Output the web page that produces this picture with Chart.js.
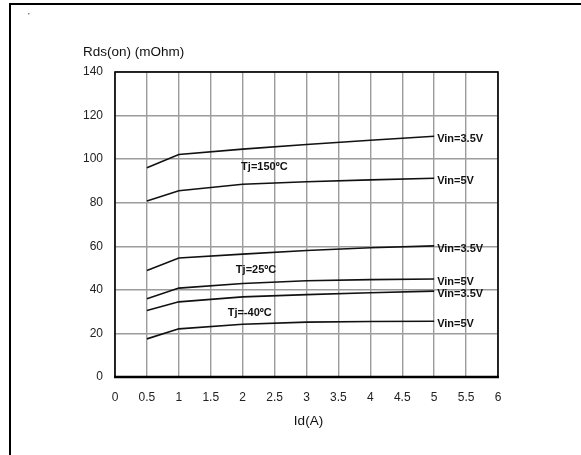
<!DOCTYPE html>
<html>
<head>
<meta charset="utf-8">
<script src="https://cdn.jsdelivr.net/npm/chart.js@4.4.1/dist/chart.umd.min.js"></script>
<style>
  html, body { margin: 0; padding: 0; background: #fff; }
  canvas { display: block; }
</style>
</head>
<body>
<canvas id="chart" width="581" height="455"></canvas>
<script>
// Id (A) sample points and Rds(on) in mOhm
const idValues = [0.5, 1, 2, 3, 4, 5];
const tj150Vin35 = [96.1, 102.1, 104.6, 106.7, 108.7, 110.5];
const tj150Vin5 = [80.8, 85.5, 88.5, 89.6, 90.5, 91.2];
const tj25Vin35 = [48.9, 54.6, 56.4, 58.1, 59.3, 60.2];
const tj25Vin5 = [35.9, 40.8, 42.9, 44.2, 44.7, 45.0];
const tjm40Vin35 = [30.5, 34.5, 36.8, 37.8, 38.7, 39.4];
const tjm40Vin5 = [17.5, 22.1, 24.2, 25.2, 25.5, 25.6];

const curves = [tj150Vin35, tj150Vin5, tj25Vin35, tj25Vin5, tjm40Vin35, tjm40Vin5];
const vinLabels = ['Vin=3.5V', 'Vin=5V', 'Vin=3.5V', 'Vin=5V', 'Vin=3.5V', 'Vin=5V'];

const tjLabels = ['Tj=150\u00baC', 'Tj=25\u00baC', 'Tj=-40\u00baC'];
const tjLabelX = [2.34, 2.21, 2.11];
const tjLabelY = [96.6, 48.9, 29.4];

const yTitle = 'Rds(on) (mOhm)';
const xTitle = 'Id(A)';

const FONT = '"Liberation Sans", Arial, sans-serif';

// page frame, titles and curve labels
const annotations = {
  id: 'annotations',
  beforeDraw(chart) {
    const ctx = chart.ctx;
    ctx.save();
    ctx.fillStyle = '#000';
    ctx.fillRect(9, 3, 581 - 9, 2);
    ctx.fillRect(9, 3, 2, 455);
    ctx.fillStyle = '#888';
    ctx.fillRect(28, 13, 1.5, 1.5);
    ctx.restore();
  },
  afterDraw(chart) {
    const ctx = chart.ctx;
    const x = chart.scales.x;
    const y = chart.scales.y;
    const a = chart.chartArea;
    ctx.save();

    // plot frame
    ctx.strokeStyle = '#000';
    ctx.lineWidth = 1.6;
    ctx.strokeRect(a.left, a.top, a.right - a.left, a.bottom - a.top);
    ctx.lineWidth = 2.6;
    ctx.beginPath();
    ctx.moveTo(a.left - 1, a.bottom);
    ctx.lineTo(a.right + 1, a.bottom);
    ctx.stroke();

    ctx.fillStyle = '#111';
    ctx.font = '13.5px ' + FONT;
    ctx.textBaseline = 'middle';
    ctx.textAlign = 'left';
    ctx.fillText(yTitle, 83, 52);
    ctx.textAlign = 'center';
    ctx.fillText(xTitle, (a.left + a.right) / 2 + 2, 421);

    ctx.font = 'bold 11px ' + FONT;
    ctx.textAlign = 'left';
    curves.forEach((c, i) => {
      const last = c.length - 1;
      ctx.fillText(vinLabels[i], x.getPixelForValue(idValues[last]) + 3, y.getPixelForValue(c[last]) + 3);
    });
    ctx.textAlign = 'center';
    tjLabels.forEach((t, i) => {
      ctx.fillText(t, x.getPixelForValue(tjLabelX[i]), y.getPixelForValue(tjLabelY[i]));
    });
    ctx.restore();
  }
};

const ctx = document.getElementById('chart').getContext('2d');
new Chart(ctx, {
  type: 'line',
  data: {
    datasets: curves.map((c) => ({
      data: c.map((v, i) => ({ x: idValues[i], y: v })),
      borderColor: '#111',
      borderWidth: 1.6,
      pointRadius: 0,
      tension: 0,
      fill: false
    }))
  },
  options: {
    responsive: false,
    animation: false,
    layout: { padding: { left: 0, top: 72, right: 83, bottom: 0 } },
    plugins: { legend: { display: false }, tooltip: { enabled: false } },
    scales: {
      x: {
        type: 'linear',
        min: 0,
        max: 6,
        afterFit: (s) => { s.height = 78; },
        grid: { color: '#9c9c9c', lineWidth: 1.4, drawTicks: false },
        border: { display: false },
        ticks: {
          stepSize: 0.5,
          autoSkip: false,
          maxRotation: 0,
          padding: 13,
          color: '#222',
          font: { family: FONT, size: 12 },
          callback: (v) => String(v)
        }
      },
      y: {
        min: 0,
        max: 140,
        afterFit: (s) => { s.width = 115; },
        grid: { color: '#9c9c9c', lineWidth: 1.4, drawTicks: false },
        border: { display: false },
        ticks: {
          stepSize: 20,
          padding: 12,
          color: '#222',
          font: { family: FONT, size: 12 }
        }
      }
    }
  },
  plugins: [annotations]
});
</script>
</body>
</html>
